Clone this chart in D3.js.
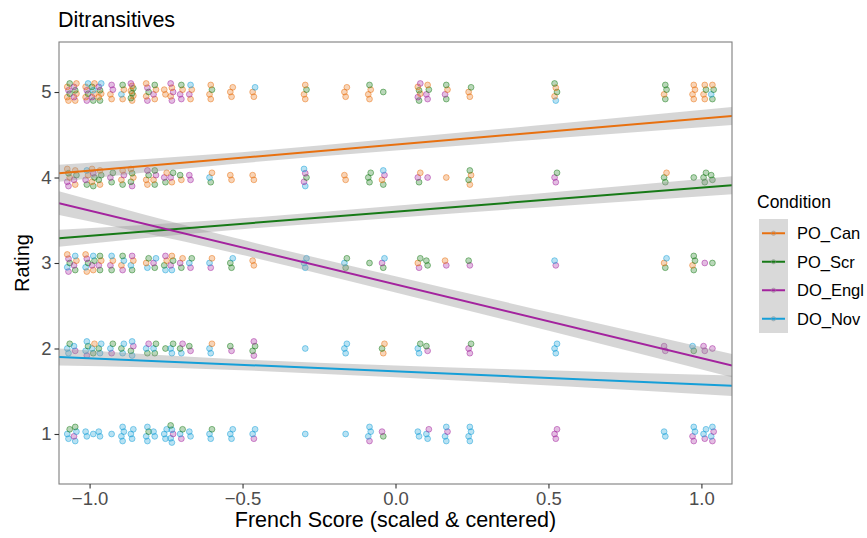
<!DOCTYPE html>
<html>
<head>
<meta charset="utf-8">
<script src="https://cdn.jsdelivr.net/npm/d3@7"></script>
<style>
  html, body { margin: 0; padding: 0; background: #fff; }
  svg { display: block; font-family: "Liberation Sans", Arial, Helvetica, sans-serif; }
</style>
</head>
<body>
<svg id="chart" width="867" height="538"></svg>
<script>
// Participants' French scores (scaled & centered), one column of points each
const frenchScores = [-1.069, -1.047, -1.009, -0.988, -0.966, -0.928, -0.892, -0.861, -0.811, -0.787,
  -0.752, -0.731, -0.700, -0.670, -0.604, -0.536, -0.463, -0.295, -0.163, -0.085,
  -0.040, 0.077, 0.105, 0.166, 0.243, 0.524, 0.882, 0.975, 1.011, 1.036];

// Conditions and their colours
const conditions = ["PO_Can", "PO_Scr", "DO_Engl", "DO_Nov"];
const conditionCodes = { c: "PO_Can", s: "PO_Scr", e: "DO_Engl", n: "DO_Nov" };
const conditionColors = ["#E8700F", "#177A17", "#A3239E", "#159FD8"];

// Ratings given by each participant, one string per participant (c/s/e/n = condition)
const ratings5 = ["ccsecs", "cecsec", "ecsecn", "secnsc", "sccsen", "ccee", "cncs", "cscscsce", "ecsec", "cecs",
  "cc", "ecece", "eecs", "cecn", "ccsc", "ccc", "ccn", "ccsc", "ccc", "cccs",
  "s", "secsce", "eesc", "secs", "ccs", "ncscs", "scss", "cccc", "ccsc", "snsc"];
const ratings4 = ["eecsc", "cesc", "secn", "scsec", "cssc", "ses", "scec", "escsc", "ccse", "sces",
  "sec", "ces", "cs", "ee", "snc", "cc", "cc", "nesen", "cc", "sss",
  "scen", "sec", "e", "c", "cscs", "ees", "ssc", "s", "sss", "ss"];
const ratings3 = ["ensec", "secn", "cnsec", "cesn", "secs", "secn", "ecns", "snce", "ncs", "sen",
  "nsce", "nesc", "sec", "ens", "enc", "ssn", "cc", "nnn", "sns", "s",
  "sen", "ecs", "ss", "ec", "es", "en", "scn", "scss", "e", "s"];
const ratings2 = ["nns", "en", "ensn", "snc", "nsn", "ens", "nsn", "nsen", "sne", "sns",
  "s", "nns", "nse", "es", "nnc", "es", "esse", "n", "nnn", "",
  "csc", "nns", "es", "", "ees", "nnn", "ee", "sn", "ee", "e"];
const ratings1 = ["nns", "nens", "nn", "n", "nn", "n", "nnnn", "nnn", "nnsn", "nn",
  "nnn", "nnens", "ens", "nn", "nns", "nnn", "enn", "n", "n", "ennn",
  "se", "nn", "nne", "nnen", "nnnn", "eee", "nn", "eenn", "enn", "enen"];
const ratingRows = [[5, ratings5], [4, ratings4], [3, ratings3], [2, ratings2], [1, ratings1]];

// Linear fits per condition: fitted rating at the left and right ends of the x range
const fitStart = [4.05, 3.29, 3.70, 1.90];
const fitEnd = [4.72, 3.91, 1.80, 1.565];
// Half-width of the 95% confidence band at these x positions
const bandX = [-1.1, -0.55, 0, 0.55, 1.1];
const bandHalf = [
  [0.10, 0.065, 0.07, 0.085, 0.105],
  [0.10, 0.065, 0.07, 0.085, 0.105],
  [0.14, 0.09, 0.095, 0.11, 0.135],
  [0.10, 0.065, 0.07, 0.09, 0.12]
];

const xTicks = [-1.0, -0.5, 0.0, 0.5, 1.0];
const yTicks = [1, 2, 3, 4, 5];

const svg = d3.select("#chart");
const margin = { left: 59, right: 135, top: 42, bottom: 54 };
const W = 867, H = 538;
const x = d3.scaleLinear().domain([-1.1, 1.1]).range([margin.left, W - margin.right]);
const y = d3.scaleLinear().domain([0.415, 5.585]).range([H - margin.bottom, margin.top]);
const color = d3.scaleOrdinal().domain(conditions).range(conditionColors);
const xDomain = x.domain();

// Build point records; points within a cell are stacked a little to avoid full overlap
const xNudge = [0, -0.004, 0.004];
const points = [];
ratingRows.forEach(([rating, row]) => {
  row.forEach((codes, p) => {
    const n = codes.length;
    const spread = Math.min(0.2, 0.055 * (n - 1));
    codes.split("").forEach((code, i) => {
      const off = n > 1 ? -spread / 2 + spread * i / (n - 1) : 0;
      points.push({
        score: frenchScores[p] + xNudge[i % 3],
        rating: rating + off,
        condition: conditionCodes[code]
      });
    });
  });
});

const plot = svg.append("g");
plot.append("clipPath").attr("id", "panel-clip")
  .append("rect")
  .attr("x", margin.left).attr("y", margin.top)
  .attr("width", W - margin.right - margin.left)
  .attr("height", H - margin.bottom - margin.top);

// Scatter of individual ratings
plot.append("g").selectAll("circle").data(points).join("circle")
  .attr("cx", d => x(d.score))
  .attr("cy", d => y(d.rating))
  .attr("r", 2.9)
  .attr("fill", d => color(d.condition))
  .attr("fill-opacity", 0.3)
  .attr("stroke", d => color(d.condition))
  .attr("stroke-opacity", 0.55)
  .attr("stroke-width", 0.9);

// Confidence bands and fitted lines
const fits = conditions.map((c, i) => {
  const slope = (fitEnd[i] - fitStart[i]) / (xDomain[1] - xDomain[0]);
  const at = v => fitStart[i] + slope * (v - xDomain[0]);
  return {
    condition: c,
    band: bandX.map((bx, k) => ({ x: bx, lo: at(bx) - bandHalf[i][k], hi: at(bx) + bandHalf[i][k] })),
    line: [{ x: xDomain[0], v: fitStart[i] }, { x: xDomain[1], v: fitEnd[i] }]
  };
});

const fitLayer = plot.append("g").attr("clip-path", "url(#panel-clip)");
fitLayer.selectAll("path.band").data(fits).join("path")
  .attr("class", "band")
  .attr("fill", "#999999")
  .attr("fill-opacity", 0.4)
  .attr("d", d => d3.area().curve(d3.curveMonotoneX)
    .x(p => x(p.x)).y0(p => y(p.lo)).y1(p => y(p.hi))(d.band));
fitLayer.selectAll("path.fit").data(fits).join("path")
  .attr("class", "fit")
  .attr("fill", "none")
  .attr("stroke", d => color(d.condition))
  .attr("stroke-width", 2)
  .attr("d", d => d3.line().x(p => x(p.x)).y(p => y(p.v))(d.line));

// Panel border
svg.append("rect")
  .attr("x", margin.left).attr("y", margin.top)
  .attr("width", W - margin.right - margin.left)
  .attr("height", H - margin.bottom - margin.top)
  .attr("fill", "none").attr("stroke", "#7F7F7F").attr("stroke-width", 1.1);

// Axes
const xAxis = svg.append("g")
  .attr("transform", `translate(0,${H - margin.bottom})`)
  .call(d3.axisBottom(x).tickValues(xTicks).tickFormat(d3.format(".1f")).tickSize(4.5).tickPadding(3));
const yAxis = svg.append("g")
  .attr("transform", `translate(${margin.left},0)`)
  .call(d3.axisLeft(y).tickValues(yTicks).tickFormat(d3.format("d")).tickSize(4.5).tickPadding(3));
[xAxis, yAxis].forEach(g => {
  g.select(".domain").remove();
  g.selectAll(".tick line").attr("stroke", "#333333").attr("stroke-width", 1.1);
  g.selectAll(".tick text").attr("fill", "#4D4D4D").style("font-size", "18.5px")
    .style("font-family", "\"Liberation Sans\", Arial, sans-serif");
});
xAxis.selectAll(".tick text").text(d => d3.format(".1f")(d).replace("-", "\u2212"));

// Axis titles and chart title
svg.append("text").attr("x", x(0)).attr("y", 527).attr("text-anchor", "middle")
  .style("font-size", "21.5px").attr("fill", "#000").text("French Score (scaled & centered)");
svg.append("text").attr("transform", `translate(29,${(margin.top + H - margin.bottom) / 2}) rotate(-90)`)
  .attr("text-anchor", "middle").style("font-size", "20px").attr("fill", "#000").text("Rating");
svg.append("text").attr("x", 58).attr("y", 27)
  .style("font-size", "21.5px").attr("fill", "#000").text("Ditransitives");

// Legend
const legend = svg.append("g").attr("transform", "translate(757,0)");
legend.append("text").attr("x", 0).attr("y", 208).style("font-size", "17.5px").text("Condition");
const keyH = 28.5, keyTop = 219;
legend.append("rect").attr("x", 2).attr("y", keyTop).attr("width", 29).attr("height", keyH * conditions.length)
  .attr("fill", "#D9D9D9");
const item = legend.selectAll("g.item").data(conditions).join("g")
  .attr("class", "item")
  .attr("transform", (d, i) => `translate(0,${keyTop + keyH * i + keyH / 2})`);
item.append("line").attr("x1", 5).attr("x2", 28).attr("stroke", d => color(d)).attr("stroke-width", 2);
item.append("circle").attr("cx", 16.5).attr("r", 2.2)
  .attr("fill", d => color(d)).attr("fill-opacity", 0.35).attr("stroke", "#999").attr("stroke-opacity", 0.5);
item.append("text").attr("x", 40).attr("y", 6).style("font-size", "16.5px").text(d => d);
</script>
</body>
</html>
